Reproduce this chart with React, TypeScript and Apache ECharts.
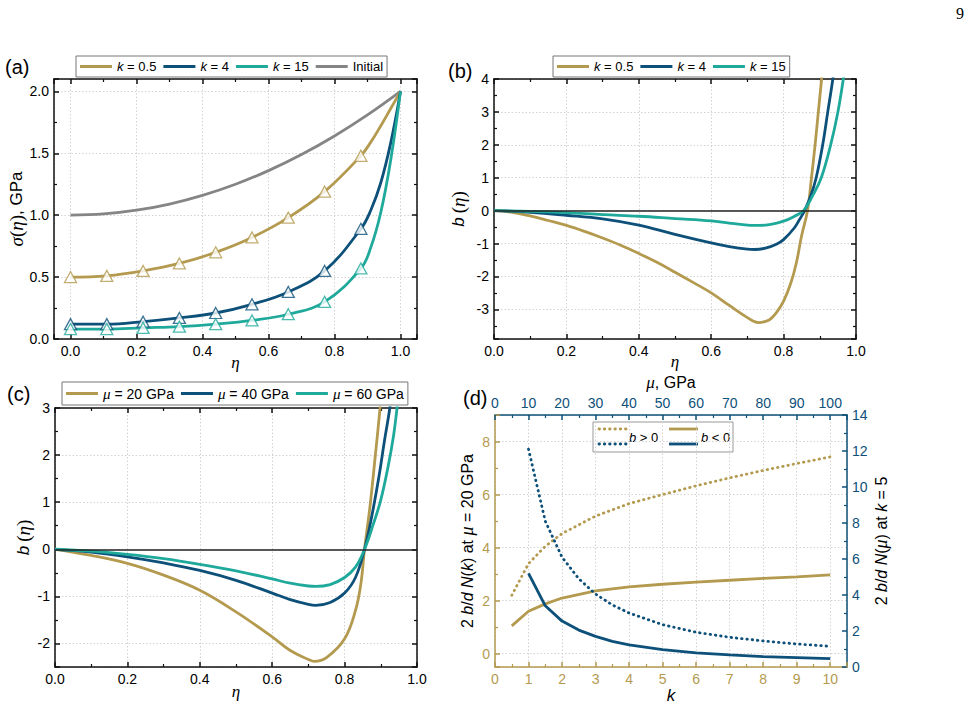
import { useEffect, useRef } from "react";
import * as echarts from "echarts";

const GOLD = "#B39A4F";
const NAVY = "#0D5079";
const TEAL = "#1FA99B";
const GREY = "#858585";
const SANS = "Liberation Sans";
const SERIF = "Liberation Serif";

// (a) stress profiles sigma(eta), GPa
const etaA = [0, 0.11, 0.22, 0.33, 0.44, 0.55, 0.66, 0.77, 0.88, 0.91, 0.94, 0.97, 1.0];
const markerCount = 9;
const sigmaK05 = [0.5, 0.51, 0.55, 0.61, 0.7, 0.82, 0.98, 1.19, 1.48, 1.59, 1.72, 1.86, 2.0];
const sigmaK4 = [0.12, 0.12, 0.14, 0.17, 0.21, 0.28, 0.38, 0.55, 0.89, 1.04, 1.26, 1.58, 2.0];
const sigmaK15 = [0.08, 0.08, 0.09, 0.1, 0.12, 0.15, 0.2, 0.3, 0.57, 0.74, 1.02, 1.44, 2.0];
const etaInit = [0, 0.1, 0.2, 0.3, 0.4, 0.5, 0.6, 0.7, 0.8, 0.9, 1.0];
const sigmaInit = [1.0, 1.01, 1.04, 1.09, 1.16, 1.25, 1.36, 1.49, 1.64, 1.81, 2.0];

// (b) b(eta) for several k
const etaBk05 = [0, 0.05, 0.1, 0.15, 0.2, 0.25, 0.3, 0.35, 0.4, 0.45, 0.5, 0.55, 0.6, 0.65, 0.7, 0.73, 0.76, 0.78, 0.8, 0.82, 0.835, 0.85, 0.866, 0.877, 0.887, 0.896, 0.905, 0.912];
const bK05 = [0, -0.05, -0.16, -0.3, -0.45, -0.63, -0.83, -1.05, -1.3, -1.57, -1.87, -2.18, -2.5, -2.88, -3.25, -3.4, -3.32, -3.1, -2.75, -2.2, -1.6, -0.75, 0, 1.0, 2.0, 3.0, 4.0, 4.8];
const etaBk4 = [0, 0.1, 0.2, 0.3, 0.4, 0.5, 0.6, 0.65, 0.7, 0.72, 0.75, 0.78, 0.8, 0.83, 0.845, 0.858, 0.875, 0.89, 0.908, 0.922, 0.936, 0.945];
const bK4 = [0, -0.05, -0.14, -0.25, -0.44, -0.72, -0.98, -1.09, -1.17, -1.18, -1.14, -1.02, -0.88, -0.52, -0.25, 0, 0.45, 1.0, 2.0, 3.0, 4.0, 4.8];
const etaBk15 = [0, 0.1, 0.2, 0.3, 0.4, 0.5, 0.6, 0.65, 0.7, 0.72, 0.75, 0.8, 0.83, 0.855, 0.88, 0.904, 0.93, 0.95, 0.965, 0.975];
const bK15 = [0, -0.02, -0.06, -0.12, -0.17, -0.24, -0.31, -0.38, -0.44, -0.45, -0.44, -0.32, -0.17, 0, 0.45, 1.0, 2.0, 3.0, 4.0, 4.8];

// (c) b(eta) for several shear moduli
const etaC20 = [0, 0.1, 0.2, 0.3, 0.4, 0.5, 0.6, 0.65, 0.7, 0.716, 0.75, 0.8, 0.83, 0.845, 0.855, 0.87, 0.885, 0.898, 0.91];
const bMu20 = [0, -0.13, -0.3, -0.55, -0.87, -1.33, -1.86, -2.15, -2.34, -2.38, -2.3, -1.9, -1.3, -0.73, 0, 0.9, 2.0, 3.0, 4.0];
const etaC40 = [0, 0.1, 0.2, 0.3, 0.4, 0.5, 0.6, 0.65, 0.7, 0.72, 0.76, 0.8, 0.83, 0.855, 0.875, 0.895, 0.91, 0.925, 0.935];
const bMu40 = [0, -0.06, -0.16, -0.29, -0.45, -0.66, -0.93, -1.07, -1.17, -1.19, -1.13, -0.93, -0.6, 0, 0.7, 1.55, 2.3, 3.0, 3.6];
const etaC60 = [0, 0.1, 0.2, 0.3, 0.4, 0.5, 0.6, 0.65, 0.7, 0.72, 0.76, 0.8, 0.83, 0.855, 0.88, 0.9, 0.92, 0.935, 0.945, 0.955];
const bMu60 = [0, -0.04, -0.11, -0.2, -0.32, -0.46, -0.63, -0.72, -0.78, -0.79, -0.75, -0.6, -0.38, 0, 0.55, 1.05, 1.75, 2.4, 3.0, 3.6];

// (d) 2b/d N(k) at mu = 20 GPa and 2b/d N(mu) at k = 5
const kVals = [0.5, 1, 1.5, 2, 3, 4, 5, 6, 7, 8, 9, 10];
const nkPositive = [2.2, 3.4, 4.05, 4.53, 5.19, 5.66, 6.0, 6.33, 6.63, 6.91, 7.17, 7.42];
const nkNegative = [1.05, 1.6, 1.88, 2.1, 2.37, 2.52, 2.62, 2.7, 2.77, 2.84, 2.9, 2.97];
const muVals = [10, 15, 20, 25, 30, 35, 40, 50, 60, 70, 80, 90, 100];
const nmuPositive = [12.1, 8.1, 6.1, 4.9, 4.05, 3.45, 3.0, 2.35, 1.93, 1.65, 1.45, 1.28, 1.15];
const nmuNegative = [5.2, 3.4, 2.55, 2.05, 1.7, 1.42, 1.23, 0.97, 0.79, 0.67, 0.58, 0.52, 0.46];

const zip = (xs: number[], ys: number[]) => xs.map((x, i) => [x, ys[i]]);

const DOTS = [0.5, 4.8];

function axis(p: any) {
  const color = p.color || "#111";
  const onStep = (v: number) => Math.abs(v / p.step - Math.round(v / p.step)) < 1e-6;
  const out: any = {
    type: "value",
    gridIndex: p.grid,
    position: p.position,
    min: p.min,
    max: p.max,
    splitNumber: Math.round((p.max - p.min) / p.step),
    minInterval: p.step,
    maxInterval: p.step,
    name: p.name || "",
    nameLocation: "middle",
    nameGap: p.nameGap || 0,
    nameTextStyle: {
      fontFamily: p.nameFamily || SANS,
      fontSize: p.nameSize || 15,
      lineHeight: p.nameLineHeight,
      fontStyle: p.nameItalic ? "italic" : "normal",
      color: "#000",
      rich: p.rich || {},
    },
    axisLine: { show: true, onZero: false, lineStyle: { color, width: 1.5 } },
    axisTick: { show: true, inside: true, length: 5, lineStyle: { color, width: 1.5 } },
    minorTick: { show: true, splitNumber: 2, length: 3, lineStyle: { color, width: 1.2 } },
    axisLabel: {
      show: !!p.fmt,
      margin: 5,
      fontFamily: SANS,
      fontSize: 14,
      color: p.color ? color : "#000",
      formatter: (v: number) => (p.fmt && onStep(v) ? p.fmt(v) : ""),
    },
    splitLine: { show: !!p.split, lineStyle: { color: "#d2d2d2", type: [1.5, 2], width: 1 } },
    minorSplitLine: { show: false },
  };
  if (p.fixedName) out.nameMoveOverlap = false;
  return out;
}

const f1 = (v: number) => v.toFixed(1);
const f0 = (v: number) => String(Math.round(v));

const richSerif = {
  s: { fontFamily: SERIF, fontStyle: "italic", fontSize: 19 },
  p: { fontFamily: SERIF, fontSize: 19 },
  n: { fontFamily: SANS, fontSize: 17 },
  b: { fontFamily: SANS, fontStyle: "italic", fontSize: 17 },
  m: { fontFamily: SERIF, fontStyle: "italic", fontSize: 18 },
};

const etaName = {
  name: "η",
  nameItalic: true,
  nameFamily: SERIF,
  nameSize: 17,
  nameLineHeight: 14,
  fixedName: true,
};

function curve(name: string, data: number[][], color: string, xi: number, yi: number, extra: any = {}) {
  return {
    type: "line",
    name,
    xAxisIndex: xi,
    yAxisIndex: yi,
    data,
    symbol: "none",
    showSymbol: false,
    smooth: 0.4,
    lineStyle: { color, width: 2.8 },
    itemStyle: { color },
    ...extra,
  };
}

function markers(name: string, data: number[][], color: string) {
  return {
    type: "scatter",
    name,
    xAxisIndex: 0,
    yAxisIndex: 0,
    data,
    symbol: "triangle",
    symbolSize: [12, 11],
    itemStyle: { color: "#fff", borderColor: color, borderWidth: 1.3 },
    z: 3,
  };
}

function polyline(name: string, data: number[][], color: string, xi: number, yi: number, dotted: boolean) {
  return {
    type: "line",
    name,
    xAxisIndex: xi,
    yAxisIndex: yi,
    data,
    symbol: "none",
    lineStyle: dotted ? { color, width: 2.8, type: DOTS, cap: "round" } : { color, width: 2.8 },
    itemStyle: { color },
  };
}

const zeroLine = {
  silent: true,
  symbol: "none",
  label: { show: false },
  lineStyle: { color: "#222", width: 1.5, type: "solid" },
  data: [{ yAxis: 0 }],
};

const legendBase = {
  orient: "horizontal",
  selectedMode: false,
  icon: "rect",
  padding: [4, 4],
  itemGap: 7,
  itemWidth: 32,
  itemHeight: 3,
  borderColor: "#777",
  borderWidth: 1,
  backgroundColor: "#fff",
  textStyle: {
    fontFamily: SANS,
    fontSize: 13,
    color: "#000",
    rich: {
      i: { fontFamily: SANS, fontStyle: "italic", fontSize: 13 },
      m: { fontFamily: SERIF, fontStyle: "italic", fontSize: 15 },
    },
  },
  formatter: (name: string) => {
    if (name.startsWith("k")) return "{i|k}" + name.slice(1);
    if (name.startsWith("μ")) return "{m|μ}" + name.slice(1);
    return name;
  },
};

function buildOption() {
  const kNames = ["k = 0.5", "k = 4", "k = 15"];
  const muNames = ["μ = 20 GPa", "μ = 40 GPa", "μ = 60 GPa"];
  const richD = { ...richSerif, n: { fontFamily: SANS, fontSize: 16 }, b: { fontFamily: SANS, fontStyle: "italic", fontSize: 16 } };
  const richTop = {
    m: { fontFamily: SERIF, fontStyle: "italic", fontSize: 17, lineHeight: 15 },
    n: { fontFamily: SANS, fontSize: 16, lineHeight: 15 },
  };
  return {
    animation: false,
    backgroundColor: "#fff",
    grid: [
      { left: 54, top: 79, right: 557, bottom: 369 },
      { left: 494, top: 79, right: 118, bottom: 369 },
      { left: 55, top: 408, right: 557, bottom: 41 },
      { left: 495, top: 415, right: 127, bottom: 41 },
    ],
    xAxis: [
      axis({ grid: 0, position: "bottom", min: -0.05, max: 1.05, step: 0.2, fmt: f1, split: true, nameGap: 16, ...etaName }),
      axis({ grid: 0, position: "top", min: -0.05, max: 1.05, step: 0.2 }),
      axis({ grid: 1, position: "bottom", min: 0, max: 1, step: 0.2, fmt: f1, split: true, nameGap: 15, ...etaName }),
      axis({ grid: 1, position: "top", min: 0, max: 1, step: 0.2 }),
      axis({ grid: 2, position: "bottom", min: 0, max: 1, step: 0.2, fmt: f1, split: true, nameGap: 17, ...etaName }),
      axis({ grid: 2, position: "top", min: 0, max: 1, step: 0.2 }),
      axis({ grid: 3, position: "bottom", min: 0, max: 10.5, step: 1, fmt: f0, split: true, color: GOLD, name: "k", nameItalic: true, nameSize: 17, nameGap: 15 }),
      axis({ grid: 3, position: "top", min: 0, max: 105, step: 10, fmt: f0, color: NAVY, name: "{m|μ}{n|, GPa}", rich: richTop, nameLineHeight: 15, nameGap: 25 }),
    ],
    yAxis: [
      axis({ grid: 0, position: "left", min: 0, max: 2.1, step: 0.5, fmt: f1, split: true, name: "{s|σ}{p|(}{s|η}{p|)}{n|, GPa}", rich: richSerif, nameGap: 24 }),
      axis({ grid: 0, position: "right", min: 0, max: 2.1, step: 0.5 }),
      axis({ grid: 1, position: "left", min: -3.9, max: 4, step: 1, fmt: f0, split: true, name: "{b|b} {p|(}{s|η}{p|)}", rich: richSerif, nameGap: 26 }),
      axis({ grid: 1, position: "right", min: -3.9, max: 4, step: 1 }),
      axis({ grid: 2, position: "left", min: -2.5, max: 3, step: 1, fmt: f0, split: true, name: "{b|b} {p|(}{s|η}{p|)}", rich: richSerif, nameGap: 22 }),
      axis({ grid: 2, position: "right", min: -2.5, max: 3, step: 1 }),
      axis({ grid: 3, position: "left", min: -0.5, max: 9, step: 2, fmt: f0, split: true, color: GOLD, name: "{n|2 }{b|b}{n|/}{b|d}{n| }{b|N}{n|(}{b|k}{n|) at }{m|μ}{n| = 20 GPa}", rich: richD, nameGap: 19 }),
      axis({ grid: 3, position: "right", min: 0, max: 14, step: 2, fmt: f0, color: NAVY, name: "{n|2 }{b|b}{n|/}{b|d}{n| }{b|N}{n|(}{m|μ}{n|) at }{b|k}{n| = 5}", rich: richD, nameGap: 25 }),
    ],
    legend: [
      { ...legendBase, data: [...kNames, "Initial"], left: 76, top: 56 },
      { ...legendBase, data: kNames, left: 553, top: 56 },
      { ...legendBase, data: muNames, left: 62, top: 382, textStyle: { ...legendBase.textStyle, fontSize: 14 } },
    ],
    series: [
      // (a)
      curve("Initial", zip(etaInit, sigmaInit), GREY, 0, 0),
      curve("k = 0.5", zip(etaA, sigmaK05), GOLD, 0, 0),
      curve("k = 4", zip(etaA, sigmaK4), NAVY, 0, 0),
      curve("k = 15", zip(etaA, sigmaK15), TEAL, 0, 0),
      markers("k = 0.5 points", zip(etaA, sigmaK05).slice(0, markerCount), GOLD),
      markers("k = 4 points", zip(etaA, sigmaK4).slice(0, markerCount), NAVY),
      markers("k = 15 points", zip(etaA, sigmaK15).slice(0, markerCount), TEAL),
      // (b)
      curve("k = 0.5", zip(etaBk05, bK05), GOLD, 2, 2, { markLine: zeroLine }),
      curve("k = 4", zip(etaBk4, bK4), NAVY, 2, 2),
      curve("k = 15", zip(etaBk15, bK15), TEAL, 2, 2),
      // (c)
      curve("μ = 20 GPa", zip(etaC20, bMu20), GOLD, 4, 4, { markLine: zeroLine }),
      curve("μ = 40 GPa", zip(etaC40, bMu40), NAVY, 4, 4),
      curve("μ = 60 GPa", zip(etaC60, bMu60), TEAL, 4, 4),
      // (d)
      polyline("N(k), b > 0", zip(kVals, nkPositive), GOLD, 6, 6, true),
      polyline("N(k), b < 0", zip(kVals, nkNegative), GOLD, 6, 6, false),
      polyline("N(μ), b > 0", zip(muVals, nmuPositive), NAVY, 7, 7, true),
      polyline("N(μ), b < 0", zip(muVals, nmuNegative), NAVY, 7, 7, false),
    ],
    graphic: [
      { type: "text", x: 5, y: 67, z: 100, style: { text: "(a)", font: `20px "${SANS}"`, fill: "#000", verticalAlign: "middle" } },
      { type: "text", x: 448, y: 71, z: 100, style: { text: "(b)", font: `20px "${SANS}"`, fill: "#000", verticalAlign: "middle" } },
      { type: "text", x: 7, y: 394, z: 100, style: { text: "(c)", font: `20px "${SANS}"`, fill: "#000", verticalAlign: "middle" } },
      { type: "text", x: 463, y: 398, z: 100, style: { text: "(d)", font: `20px "${SANS}"`, fill: "#000", verticalAlign: "middle" } },
      { type: "text", x: 956, y: 5, z: 100, style: { text: "9", font: `16px "${SERIF}"`, fill: "#000" } },
      // key for panel (d)
      {
        type: "group",
        z: 100,
        children: [
          { type: "rect", shape: { x: 593, y: 422, width: 140, height: 30 }, style: { fill: "#fff", stroke: "#999", lineWidth: 1 } },
          { type: "line", shape: { x1: 599, y1: 429, x2: 627, y2: 429 }, style: { stroke: GOLD, lineWidth: 2.8, lineDash: DOTS, lineCap: "round" } },
          { type: "line", shape: { x1: 599, y1: 444, x2: 627, y2: 444 }, style: { stroke: NAVY, lineWidth: 2.8, lineDash: DOTS, lineCap: "round" } },
          { type: "text", x: 629, y: 437, style: { text: "{i|b} > 0", font: `13px "${SANS}"`, fill: "#000", verticalAlign: "middle", rich: { i: { fontStyle: "italic", fontFamily: SANS, fontSize: 13 } } } },
          { type: "line", shape: { x1: 669, y1: 429, x2: 698, y2: 429 }, style: { stroke: GOLD, lineWidth: 2.8 } },
          { type: "line", shape: { x1: 669, y1: 444, x2: 698, y2: 444 }, style: { stroke: NAVY, lineWidth: 2.8 } },
          { type: "text", x: 701, y: 437, style: { text: "{i|b} < 0", font: `13px "${SANS}"`, fill: "#000", verticalAlign: "middle", rich: { i: { fontStyle: "italic", fontFamily: SANS, fontSize: 13 } } } },
        ],
      },
    ],
  };
}

export default function App() {
  const ref = useRef<HTMLDivElement>(null);
  useEffect(() => {
    if (!ref.current) return;
    const chart = echarts.init(ref.current, undefined, { renderer: "svg" });
    chart.setOption(buildOption() as any);
    return () => chart.dispose();
  }, []);
  return (
    <div
      ref={ref}
      style={{ position: "fixed", left: 0, top: 0, width: 974, height: 708, background: "#fff" }}
    />
  );
}
